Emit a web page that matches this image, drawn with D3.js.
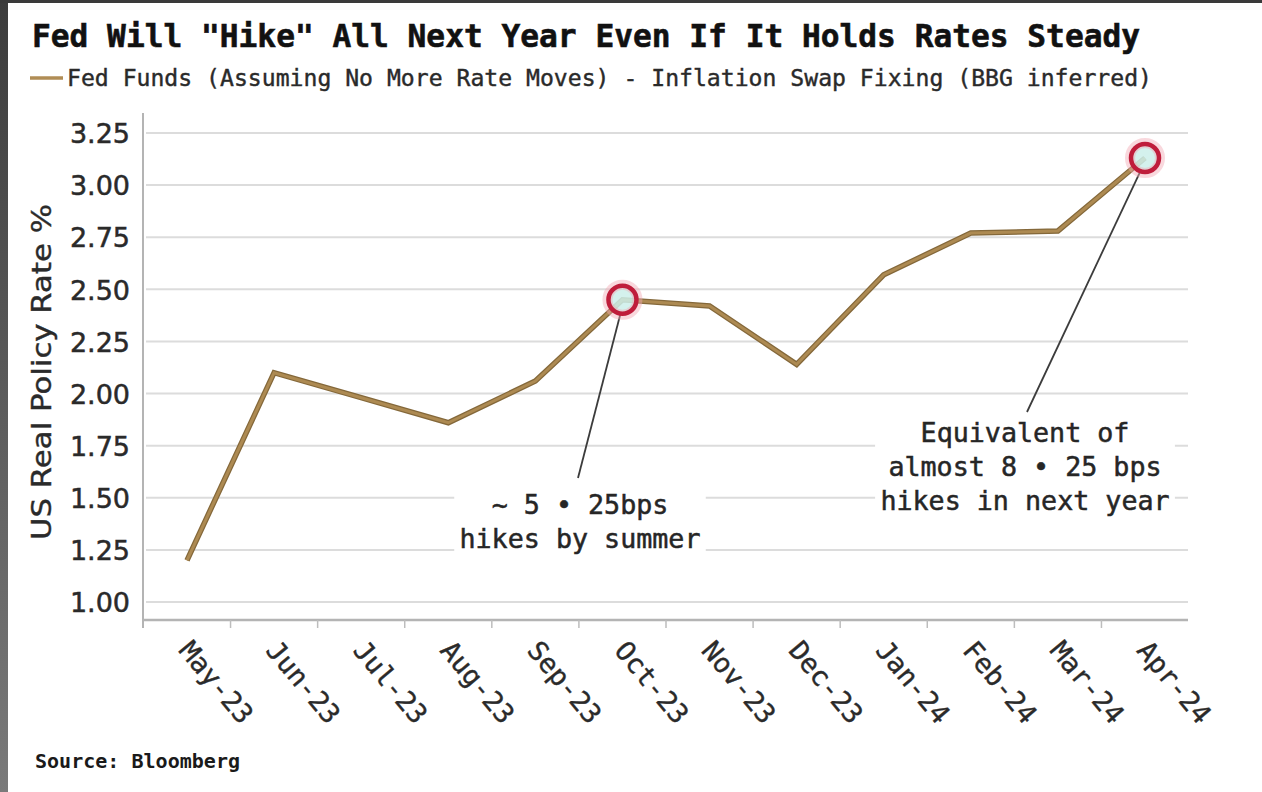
<!DOCTYPE html>
<html>
<head>
<meta charset="utf-8">
<script src="https://cdn.jsdelivr.net/npm/d3@7"></script>
<style>
  html, body { margin: 0; padding: 0; background: #ffffff; }
  svg { display: block; }
</style>
</head>
<body>
<svg id="chart" width="1262" height="792"></svg>
<script>
// Monthly real policy rate path (Fed funds held flat minus inflation swap fixings)
const months = ["May-23", "Jun-23", "Jul-23", "Aug-23", "Sep-23", "Oct-23",
                "Nov-23", "Dec-23", "Jan-24", "Feb-24", "Mar-24", "Apr-24"];
const realRate = [1.20, 2.10, 1.98, 1.86, 2.06, 2.45, 2.42, 2.14, 2.57, 2.77, 2.78, 3.13];
const yTicks = [1.00, 1.25, 1.50, 1.75, 2.00, 2.25, 2.50, 2.75, 3.00, 3.25];

const titleText = "Fed Will \"Hike\" All Next Year Even If It Holds Rates Steady";
const legendText = "Fed Funds (Assuming No More Rate Moves) - Inflation Swap Fixing (BBG inferred)";
const yAxisTitle = "US Real Policy Rate %";
const sourceText = "Source: Bloomberg";

// Callouts: which month they point at and their text lines
const callouts = [
  { month: "Oct-23", lines: ["~ 5 \u2022 25bps", "hikes by summer"] },
  { month: "Apr-24", lines: ["Equivalent of", "almost 8 \u2022 25 bps", "hikes in next year"] }
];

const svg = d3.select("#chart");
const mono = "'DejaVu Sans Mono', 'Liberation Mono', monospace";
const sans = "'DejaVu Sans', Verdana, sans-serif";

// Frame edges
svg.append("rect").attr("x", 0).attr("y", 0).attr("width", 1262).attr("height", 792).attr("fill", "#ffffff");
const edgeGrad = svg.append("defs").append("linearGradient")
  .attr("id", "edge").attr("x1", 0).attr("y1", 0).attr("x2", 0).attr("y2", 1);
edgeGrad.append("stop").attr("offset", "0").attr("stop-color", "#3c3c3c");
edgeGrad.append("stop").attr("offset", "1").attr("stop-color", "#7a7a7a");
svg.append("rect").attr("x", 0).attr("y", 0).attr("width", 8).attr("height", 792).attr("fill", "url(#edge)");
svg.append("rect").attr("x", 0).attr("y", 0).attr("width", 1262).attr("height", 3).attr("fill", "#3a3a3a");

// Scales
const plotLeft = 143, plotRight = 1188;
const x = d3.scalePoint().domain(months).range([187, 1145]);
const y = d3.scaleLinear().domain([1.0, 3.25]).range([602, 133]);
const axisY = y(1.0) + 18;

// Horizontal gridlines
svg.append("g").selectAll("line").data(yTicks).join("line")
  .attr("x1", plotLeft + 3).attr("x2", plotRight)
  .attr("y1", d => y(d)).attr("y2", d => y(d))
  .attr("stroke", "#dcdcdc").attr("stroke-width", 2);

// Y axis
const yAxis = d3.axisLeft(y).tickValues(yTicks).tickFormat(d3.format(".2f")).tickSize(0).tickPadding(13);
const gy = svg.append("g").attr("transform", `translate(${plotLeft},0)`).call(yAxis);
gy.select(".domain").remove();
gy.selectAll("text").attr("font-family", sans).attr("font-size", 27).attr("fill", "#2a2a2a")
  .attr("stroke", "#2a2a2a").attr("stroke-width", 0.5).attr("dy", "0.36em");
svg.append("line").attr("x1", plotLeft).attr("x2", plotLeft).attr("y1", 113).attr("y2", axisY + 8)
  .attr("stroke", "#b4b4b4").attr("stroke-width", 2);

// X axis line with ticks between months
svg.append("line").attr("x1", plotLeft).attr("x2", plotRight).attr("y1", axisY).attr("y2", axisY)
  .attr("stroke", "#b4b4b4").attr("stroke-width", 2.5);
const step = x.step();
const tickXs = months.slice(0, -1).map(m => x(m) + step / 2);
svg.append("g").selectAll("line").data(tickXs).join("line")
  .attr("x1", d => d).attr("x2", d => d).attr("y1", axisY).attr("y2", axisY + 8)
  .attr("stroke", "#bdbdbd").attr("stroke-width", 1.5);

// Rotated month labels
svg.append("g").selectAll("text").data(months).join("text")
  .attr("transform", d => `translate(${x(d) - 2},${axisY + 25}) rotate(50)`)
  .attr("font-family", mono).attr("font-size", 27).attr("fill", "#2a2a2a")
  .attr("stroke", "#2a2a2a").attr("stroke-width", 0.4)
  .attr("text-anchor", "start").attr("dy", "0.35em")
  .text(d => d);

// Y axis title
svg.append("text")
  .attr("transform", `translate(51,372) rotate(-90)`)
  .attr("text-anchor", "middle")
  .attr("font-family", sans).attr("font-size", 26).attr("fill", "#2a2a2a")
  .attr("stroke", "#2a2a2a").attr("stroke-width", 0.4)
  .attr("textLength", 336).attr("lengthAdjust", "spacingAndGlyphs")
  .text(yAxisTitle);

// Series line
const line = d3.line().x((d, i) => x(months[i])).y(d => y(d));
svg.append("path").datum(realRate)
  .attr("d", line).attr("fill", "none")
  .attr("stroke", "#84683a").attr("stroke-width", 5.5).attr("stroke-linejoin", "miter");
svg.append("path").datum(realRate)
  .attr("d", line).attr("fill", "none")
  .attr("stroke", "#ad8a52").attr("stroke-width", 3).attr("stroke-linejoin", "miter");

// Callouts
const textLayout = [
  { cx: 580, firstBase: 514, lineGap: 34, from: [-2, 14], to: [578, 478] },
  { cx: 1025, firstBase: 442, lineGap: 34, from: [-5, 14], to: [1027, 412] }
];
callouts.forEach((c, k) => {
  const px = x(c.month), py = y(realRate[months.indexOf(c.month)]);
  const L = textLayout[k];
  // leader line
  svg.append("line")
    .attr("x1", px + L.from[0]).attr("y1", py + L.from[1])
    .attr("x2", L.to[0]).attr("y2", L.to[1])
    .attr("stroke", "#3c3c3c").attr("stroke-width", 1.8);
  // text block with white backing
  const g = svg.append("g");
  const maxLen = d3.max(c.lines, s => s.length);
  const w = maxLen * 16.1 + 10;
  g.append("rect")
    .attr("x", L.cx - w / 2).attr("y", L.firstBase - 26)
    .attr("width", w).attr("height", L.lineGap * (c.lines.length - 1) + 36)
    .attr("fill", "#ffffff");
  g.selectAll("text").data(c.lines).join("text")
    .attr("x", L.cx).attr("y", (d, i) => L.firstBase + i * L.lineGap)
    .attr("text-anchor", "middle")
    .attr("font-family", mono).attr("font-size", 26.7).attr("fill", "#262626")
    .attr("stroke", "#262626").attr("stroke-width", 0.5)
    .text(d => d);
  // highlight ring
  svg.append("circle").attr("cx", px).attr("cy", py).attr("r", 15)
    .attr("fill", "#cdeeea").attr("fill-opacity", 0.85)
    .attr("stroke", "#f2a8b4").attr("stroke-width", 10).attr("stroke-opacity", 0.45);
  svg.append("circle").attr("cx", px).attr("cy", py).attr("r", 14)
    .attr("fill", "none").attr("stroke", "#bf1d3b").attr("stroke-width", 4.5);
});

// Title
svg.append("text")
  .attr("x", 32).attr("y", 47)
  .attr("font-family", mono).attr("font-weight", "bold").attr("font-size", 32)
  .attr("fill", "#111111").attr("stroke", "#111111").attr("stroke-width", 0.6)
  .attr("textLength", 1108).attr("lengthAdjust", "spacingAndGlyphs")
  .text(titleText);

// Legend
svg.append("line").attr("x1", 30).attr("x2", 63).attr("y1", 78).attr("y2", 78)
  .attr("stroke", "#b08d55").attr("stroke-width", 3.5);
svg.append("text")
  .attr("x", 67).attr("y", 86)
  .attr("font-family", mono).attr("font-size", 23).attr("fill", "#2a2a2a")
  .attr("stroke", "#2a2a2a").attr("stroke-width", 0.4)
  .attr("textLength", 1085).attr("lengthAdjust", "spacingAndGlyphs")
  .text(legendText);

// Source
svg.append("text")
  .attr("x", 35).attr("y", 768)
  .attr("font-family", mono).attr("font-weight", "bold").attr("font-size", 19)
  .attr("fill", "#1a1a1a")
  .attr("textLength", 205).attr("lengthAdjust", "spacingAndGlyphs")
  .text(sourceText);
</script>
</body>
</html>
